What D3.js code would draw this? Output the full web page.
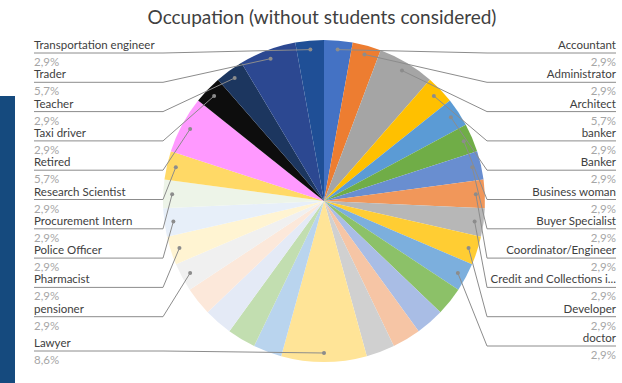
<!DOCTYPE html>
<html>
<head>
<meta charset="utf-8">
<script src="https://cdn.jsdelivr.net/npm/d3@7"></script>
<style>
  html, body { margin: 0; padding: 0; background: #ffffff; }
  svg { display: block; font-family: Lato, "Open Sans", sans-serif; }
</style>
</head>
<body>
<svg id="chart" width="622" height="383"></svg>
<script>
// Occupations in slice order (clockwise from 12 o'clock); "" = label not shown
const occupations = [
  "Accountant", "Administrator", "Architect", "banker", "Banker",
  "Business woman", "Buyer Specialist", "Coordinator/Engineer",
  "Credit and Collections i...", "Developer", "doctor",
  "", "", "", "",
  "Lawyer",
  "", "", "", "",
  "pensioner", "Pharmacist", "Police Officer", "Procurement Intern",
  "Research Scientist", "Retired", "Taxi driver", "Teacher", "Trader",
  "Transportation engineer"
];

// Number of respondents per occupation
const counts = [
  1, 1, 2, 1, 1,
  1, 1, 1,
  1, 1, 1,
  1, 1, 1, 1,
  3,
  1, 1, 1, 1,
  1, 1, 1, 1,
  1, 2, 1, 1, 2,
  1
];

// Slice fills
const sliceColors = [
  "#4472C4", "#ED7D31", "#A5A5A5", "#FFC000", "#5B9BD5",
  "#70AD47", "#698ED0", "#F1975A",
  "#B7B7B7", "#FFCD33", "#7CAFDD",
  "#8CC168", "#A9BDE5", "#F6C5A5", "#D0D0D0",
  "#FFE497",
  "#B9D4EE", "#C2DEB0", "#E4EAF6", "#FCE8DA",
  "#F0F0F0", "#FFF4D2", "#E7EFF9", "#EDF4E8",
  "#FFD966", "#FF99FF", "#0D0D0D", "#1C365F", "#2C4891",
  "#1F4F96"
];

const titleText = "Occupation (without students considered)";

const W = 622, H = 383;
const cx = 324, cy = 201, R = 161, dotR = 152;
const svg = d3.select("#chart");

// side panel strip
svg.append("rect")
  .attr("x", 0).attr("y", 96).attr("width", 15).attr("height", H - 96)
  .attr("fill", "#154A7E");

svg.append("text")
  .attr("x", 322).attr("y", 17)
  .attr("text-anchor", "middle").attr("dy", "0.35em")
  .attr("font-size", 19).attr("fill", "#404040")
  .text(titleText);

const total = d3.sum(counts);
const data = counts.map((v, i) => ({ name: occupations[i], value: v, color: sliceColors[i], index: i }));

const pie = d3.pie().sort(null).value(d => d.value).startAngle(0).endAngle(2 * Math.PI);
const arcs = pie(data);
const arc = d3.arc().innerRadius(0).outerRadius(R);

const g = svg.append("g").attr("transform", `translate(${cx},${cy})`);
g.selectAll("path.slice")
  .data(arcs)
  .join("path")
  .attr("class", "slice")
  .attr("d", arc)
  .attr("fill", d => d.data.color);

const fmt = v => (v * 100).toFixed(1).replace(".", ",") + "%";

// label placement: first block on the right, last block on the left
const labelled = arcs.filter(a => a.data.name !== "");
const lawyerIdx = occupations.indexOf("Lawyer");
const rightLabels = labelled.filter(a => a.data.index < lawyerIdx);
const leftLabels = labelled.filter(a => a.data.index >= lawyerIdx).reverse();

const slotTop = 45, slotStep = 29.3;
const leftX = 34, leftElbow = 163, rightX = 616, rightElbow = 487;

function anchorPoint(a) {
  const m = (a.startAngle + a.endAngle) / 2;
  return [cx + dotR * Math.sin(m), cy - dotR * Math.cos(m)];
}

const lineColor = "#8C8C8C";
const labelsG = svg.append("g");

function drawLabel(a, y, side) {
  const [px, py] = anchorPoint(a);
  const lineY = y + 8;
  const textX = side === "left" ? leftX : rightX;
  const elbow = side === "left" ? leftElbow : rightElbow;
  labelsG.append("polyline")
    .attr("points", `${px},${py} ${elbow},${lineY} ${textX},${lineY}`)
    .attr("fill", "none").attr("stroke", lineColor).attr("stroke-width", 1);
  labelsG.append("circle")
    .attr("cx", px).attr("cy", py).attr("r", 2)
    .attr("fill", lineColor);
  const anchor = side === "left" ? "start" : "end";
  labelsG.append("text")
    .attr("x", textX).attr("y", y).attr("dy", "0.35em")
    .attr("text-anchor", anchor).attr("font-size", 11.5).attr("fill", "#404040")
    .text(a.data.name);
  labelsG.append("text")
    .attr("x", textX).attr("y", y + 17).attr("dy", "0.35em")
    .attr("text-anchor", anchor).attr("font-size", 11.5).attr("fill", "#A6A6A6")
    .text(fmt(a.data.value / total));
}

rightLabels.forEach((a, i) => drawLabel(a, slotTop + slotStep * i, "right"));
leftLabels.forEach((a, i) => {
  const extra = i === leftLabels.length - 1 ? 5 : 0;
  drawLabel(a, slotTop + slotStep * i + extra, "left");
});
</script>
</body>
</html>
